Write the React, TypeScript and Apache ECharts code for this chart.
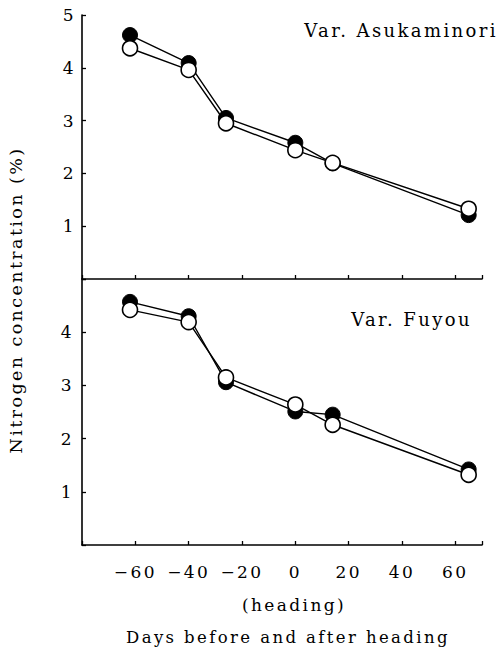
import React, { useEffect, useRef } from "react";
import * as echarts from "echarts";

const xDays = [-62, -40, -26, 0, 14, 65];
const asukaFilled = [4.62, 4.09, 3.05, 2.58, 2.19, 1.21];
const asukaOpen = [4.37, 3.96, 2.95, 2.44, 2.2, 1.33];
const fuyouFilled = [4.57, 4.3, 3.06, 2.51, 2.45, 1.42];
const fuyouOpen = [4.42, 4.19, 3.15, 2.64, 2.26, 1.32];
const xTicks = [-60, -40, -20, 0, 20, 40, 60];
const topYLabels = [1, 2, 3, 4, 5];
const bottomYLabels = [1, 2, 3, 4];

const FONT = "DejaVu Serif";

function pairs(ys: number[]) {
  return xDays.map((x, i) => [x, ys[i]]);
}

export default function App() {
  const ref = useRef<HTMLDivElement>(null);
  useEffect(() => {
    if (!ref.current) return;
    const chart = echarts.init(ref.current, null, { renderer: "svg" });
    const axisLine = { show: true, onZero: false, lineStyle: { color: "#000", width: 1.6 } };
    const axisTick = { show: true, inside: true, length: 4, lineStyle: { color: "#000", width: 1.3 } };
    const lbl = { color: "#000", fontFamily: FONT, fontSize: 17 };
    const filledSeries = (ys: number[], idx: number) => ({
      type: "line",
      xAxisIndex: idx,
      yAxisIndex: idx,
      data: pairs(ys),
      symbol: "circle",
      symbolSize: 15,
      itemStyle: { color: "#000", borderColor: "#000", borderWidth: 1 },
      lineStyle: { color: "#000", width: 1.4 },
      z: 2,
    });
    const openSeries = (ys: number[], idx: number) => ({
      type: "line",
      xAxisIndex: idx,
      yAxisIndex: idx,
      data: pairs(ys),
      symbol: "circle",
      symbolSize: 15,
      itemStyle: { color: "#fff", borderColor: "#000", borderWidth: 1.6 },
      lineStyle: { color: "#000", width: 1.4 },
      z: 3,
    });
    chart.setOption({
      animation: false,
      backgroundColor: "#fff",
      grid: [
        { left: 82, top: 15, width: 400, height: 264 },
        { left: 82, top: 279, width: 400, height: 266 },
      ],
      xAxis: [
        {
          type: "value", gridIndex: 0, min: -80, max: 70, interval: 20,
          axisLine, axisTick, axisLabel: { show: false }, splitLine: { show: false },
        },
        {
          type: "value", gridIndex: 1, min: -80, max: 70, interval: 20,
          axisLine, axisTick,
          axisLabel: {
            ...lbl, margin: 18,
            formatter: (v: number) => (xTicks.includes(v) ? (v < 0 ? "\u2212" + Math.abs(v) : String(v)) : ""),
          },
          splitLine: { show: false },
        },
      ],
      yAxis: [
        {
          type: "value", gridIndex: 0, min: 0, max: 5, interval: 1,
          axisLine, axisTick, splitLine: { show: false },
          axisLabel: { ...lbl, margin: 6, formatter: (v: number) => (topYLabels.includes(v) ? String(v) : "") },
        },
        {
          type: "value", gridIndex: 1, min: 0, max: 5, interval: 1,
          axisLine, axisTick, splitLine: { show: false },
          axisLabel: { ...lbl, margin: 8, formatter: (v: number) => (bottomYLabels.includes(v) ? String(v) : "") },
        },
      ],
      graphic: [
        { type: "text", x: 498, y: 30, style: { text: "Var. Asukaminori", align: "right", verticalAlign: "middle", fill: "#000", font: `18px "${FONT}"` } },
        { type: "text", x: 472, y: 319, style: { text: "Var. Fuyou", align: "right", verticalAlign: "middle", fill: "#000", font: `18px "${FONT}"` } },
        { type: "text", x: 16, y: 300, rotation: Math.PI / 2, style: { text: "Nitrogen concentration (%)", align: "center", verticalAlign: "middle", fill: "#000", font: `17.5px "${FONT}"` } },
        { type: "text", x: 294, y: 605, style: { text: "(heading)", align: "center", verticalAlign: "middle", fill: "#000", font: `17px "${FONT}"` } },
        { type: "text", x: 288, y: 637, style: { text: "Days before and after heading", align: "center", verticalAlign: "middle", fill: "#000", font: `16.5px "${FONT}"` } },
      ],
      series: [
        filledSeries(asukaFilled, 0),
        openSeries(asukaOpen, 0),
        filledSeries(fuyouFilled, 1),
        openSeries(fuyouOpen, 1),
      ],
    });
    return () => chart.dispose();
  }, []);
  return (
    <div
      ref={ref}
      style={{ position: "absolute", left: 0, top: 0, width: 498, height: 656, letterSpacing: "2.4px" }}
    />
  );
}
